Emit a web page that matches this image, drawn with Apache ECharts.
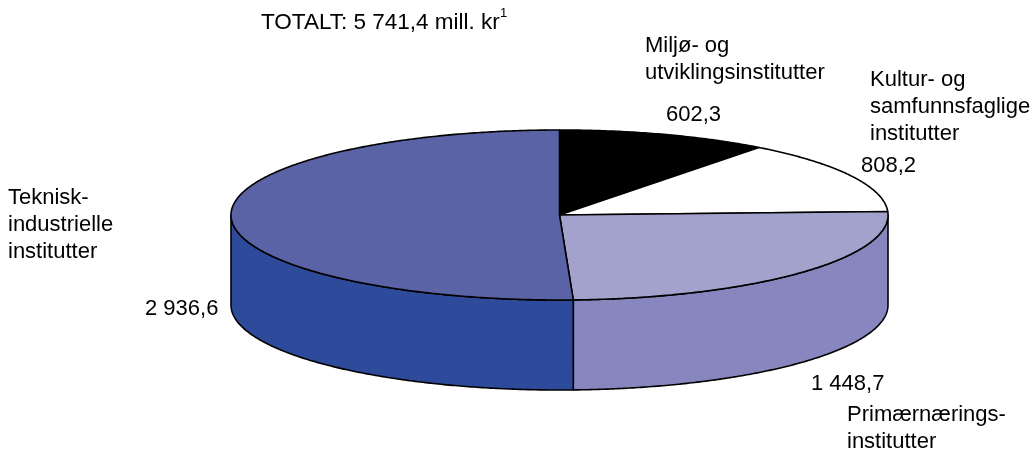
<!DOCTYPE html>
<html>
<head>
<meta charset="utf-8">
<style>
  html, body { margin: 0; padding: 0; background: #fff; }
  #chart { width: 1033px; height: 452px; }
</style>
<script src="https://cdn.jsdelivr.net/npm/echarts@6/dist/echarts.min.js"></script>
</head>
<body>
<div id="chart"></div>
<script>
const categories = ['Miljø- og\nutviklingsinstitutter', 'Kultur- og\nsamfunnsfaglige\ninstitutter', 'Primærnærings-\ninstitutter', 'Teknisk-\nindustrielle\ninstitutter']
const values = [602.3, 808.2, 1448.7, 2936.6]
const valueLabels = ['602,3', '808,2', '1 448,7', '2 936,6']
const totalLabel = 'TOTALT: 5 741,4 mill. kr'
const topColors = ['#000000', '#ffffff', '#a2a2cc', '#5b63a7']
const sideColors = ['#000000', '#ffffff', '#8786be', '#2e4a9a']

const cx = 559.5
const cy = 215
const rx = 328.5
const ry = 85
const depth = 90

const sum = values.reduce((a, b) => a + b, 0)
const font = '22px "Liberation Sans", Arial, sans-serif'

// angle is clockwise from the top of the ellipse, in degrees
const point = (deg, dy) => {
  const a = (deg * Math.PI) / 180
  return [cx + rx * Math.sin(a), cy - ry * Math.cos(a) + dy]
}

const arc = (from, to, dy) => {
  const pts = []
  const steps = Math.max(2, Math.ceil(Math.abs(to - from) * 2))
  for (let i = 0; i <= steps; i++) {
    pts.push(point(from + ((to - from) * i) / steps, dy))
  }
  return pts
}

const renderSlice = (params, api) => {
  const i = params.dataIndex
  const before = values.slice(0, i).reduce((a, b) => a + b, 0)
  const start = (before / sum) * 360
  const end = start + (api.value(0) / sum) * 360
  const line = { stroke: '#000', lineWidth: 1.6, lineJoin: 'round' }
  const children = []

  // front wall, only the part between 90 and 270 degrees can be seen
  const wallFrom = Math.max(start, 90)
  const wallTo = Math.min(end, 270)
  if (wallFrom < wallTo) {
    children.push({
      type: 'polygon',
      shape: { points: arc(wallFrom, wallTo, 0).concat(arc(wallTo, wallFrom, depth)) },
      style: { fill: sideColors[i], ...line }
    })
  }

  children.push({
    type: 'polygon',
    shape: { points: [[cx, cy]].concat(arc(start, end, 0)) },
    style: { fill: topColors[i], ...line }
  })

  return { type: 'group', children }
}

const text = (str, x, y, extra) => ({
  type: 'text',
  x,
  y,
  style: { text: str, font, fill: '#000', lineHeight: 27, verticalAlign: 'top', ...extra }
})

const chart = echarts.init(document.getElementById('chart'), null, { renderer: 'canvas' })
chart.setOption({
  animation: false,
  backgroundColor: '#fff',
  series: [
    {
      type: 'custom',
      coordinateSystem: 'none',
      renderItem: renderSlice,
      data: values.map((v, i) => ({ name: categories[i], value: [v] }))
    }
  ],
  graphic: [
    text(totalLabel, 261, 9, { font: '22.5px "Liberation Sans", Arial, sans-serif' }),
    text('1', 500, 0, { font: '13px "Liberation Sans", Arial, sans-serif' }),
    text(categories[0], 645, 32),
    text(valueLabels[0], 666, 101),
    text(categories[1], 870, 66),
    text(valueLabels[1], 861, 152),
    text(categories[2], 847, 401),
    text(valueLabels[2], 811, 370),
    text(categories[3], 8, 184),
    text(valueLabels[3], 145, 295)
  ]
})
</script>
</body>
</html>
